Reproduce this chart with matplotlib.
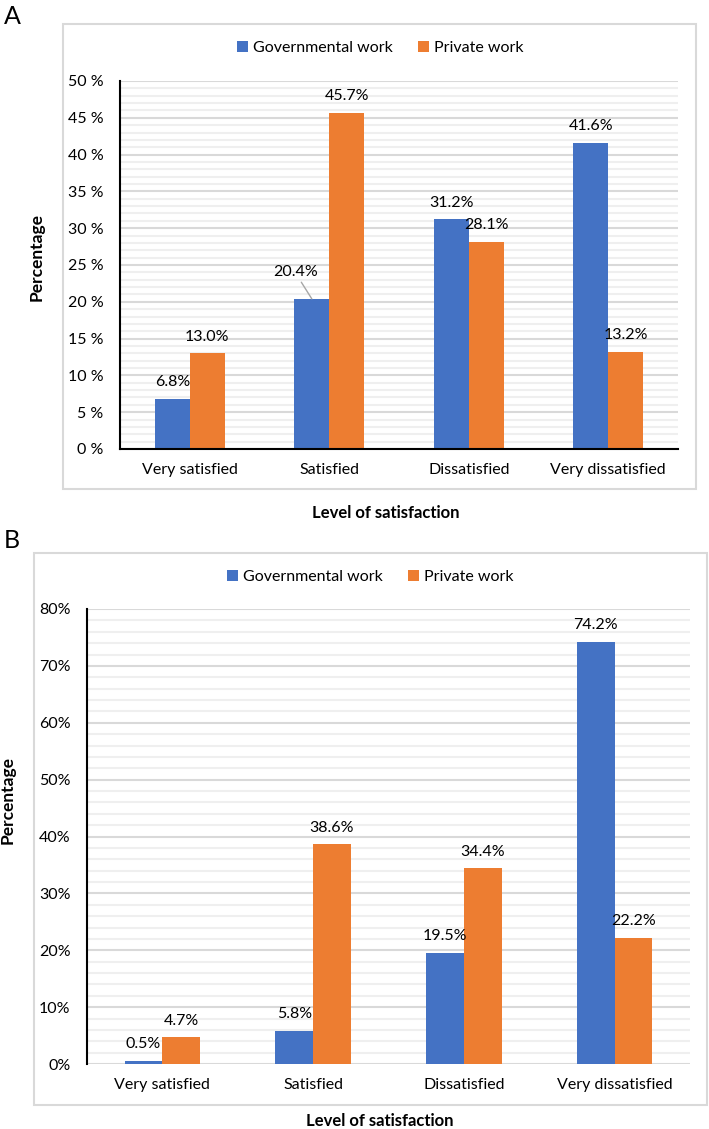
import matplotlib
matplotlib.use("Agg")
import matplotlib.pyplot as plt
import numpy as np
from matplotlib.patches import Rectangle

plt.rcParams['font.family'] = ['Lato', 'DejaVu Sans']

# data
categories = ['Very satisfied', 'Satisfied', 'Dissatisfied', 'Very dissatisfied']
a_gov = [6.8, 20.4, 31.2, 41.6]
a_priv = [13.0, 45.7, 28.1, 13.2]
b_gov = [0.5, 5.8, 19.5, 74.2]
b_priv = [4.7, 38.6, 34.4, 22.2]
a_ticks = [0, 5, 10, 15, 20, 25, 30, 35, 40, 45, 50]
a_ticklabels = ['%d %%' % t for t in a_ticks]
b_ticks = [0, 10, 20, 30, 40, 50, 60, 70, 80]
b_ticklabels = ['%d%%' % t for t in b_ticks]

BLUE = '#4472C4'
ORANGE = '#ED7D31'
W, H = 709, 1129
LBL = 11.5

fig = plt.figure(figsize=(W / 100, H / 100), dpi=100)


def px_axes(l, t, r, b):
    return fig.add_axes([l / W, 1 - b / H, (r - l) / W, (b - t) / H])


def box(l, t, r, b):
    fig.patches.append(Rectangle((l / W, 1 - b / H), (r - l) / W, (b - t) / H,
                                 transform=fig.transFigure, fill=False,
                                 edgecolor='#D9D9D9', linewidth=1.5))


def panel(ax, gov, priv, ticks, ticklabels, minor_step, bottom_spine):
    x = np.arange(len(categories))
    w = 0.25
    bg = ax.bar(x - w / 2, gov, w, color=BLUE, label='Governmental work', zorder=3)
    bp = ax.bar(x + w / 2, priv, w, color=ORANGE, label='Private work', zorder=3)
    ax.set_xlim(-0.5, len(categories) - 0.5)
    ax.set_ylim(ticks[0], ticks[-1])
    ax.set_yticks(ticks)
    ax.set_yticklabels(ticklabels)
    ax.set_yticks(np.arange(ticks[0], ticks[-1], minor_step), minor=True)
    ax.set_xticks(x)
    ax.set_xticklabels(categories)
    ax.tick_params(axis='both', which='both', length=0, labelsize=11.5)
    ax.tick_params(axis='y', pad=12)
    ax.tick_params(axis='x', pad=10)
    ax.grid(axis='y', which='major', color='#D9D9D9', linewidth=1.5, zorder=0)
    ax.grid(axis='y', which='minor', color='#EFEFEF', linewidth=1.5, zorder=0)
    for s in ['top', 'right']:
        ax.spines[s].set_visible(False)
    ax.spines['left'].set_color('black')
    ax.spines['left'].set_linewidth(1.5)
    if bottom_spine:
        ax.spines['bottom'].set_color('black')
        ax.spines['bottom'].set_linewidth(1.5)
        ax.spines['bottom'].set_zorder(4)
    else:
        ax.spines['bottom'].set_visible(False)
    return bg, bp


# ---- panel A
box(63, 24, 696, 489)
axA = px_axes(120, 81, 678, 449)
bg, bp = panel(axA, a_gov, a_priv, a_ticks, a_ticklabels, 1, True)
for i, (r, v) in enumerate(zip(bg, a_gov)):
    cx = r.get_x() + r.get_width() / 2
    if i == 1:
        axA.annotate('%.1f%%' % v, xy=(cx, v), xytext=(-12, 14), textcoords='offset points',
                     ha='center', va='bottom', fontsize=LBL,
                     arrowprops=dict(arrowstyle='-', color='#A6A6A6', lw=1,
                                     shrinkA=0, shrinkB=0))
    else:
        axA.annotate('%.1f%%' % v, xy=(cx, v), xytext=(0, 7), textcoords='offset points',
                     ha='center', va='bottom', fontsize=LBL)
for r, v in zip(bp, a_priv):
    axA.annotate('%.1f%%' % v, xy=(r.get_x() + r.get_width() / 2, v), xytext=(0, 7),
                 textcoords='offset points', ha='center', va='bottom', fontsize=LBL)
fig.legend(handles=[bg, bp], loc='center', bbox_to_anchor=(380 / W, 1 - 48 / H),
           ncol=2, frameon=False, fontsize=11.5, handlelength=0.7, handleheight=0.7,
           handletextpad=0.3, columnspacing=1.6)
fig.text(37 / W, 1 - 257 / H, 'Percentage', rotation=90, ha='center', va='center',
         fontsize=12.5, fontweight='bold')
fig.text(386 / W, 1 - 513 / H, 'Level of satisfaction', ha='center', va='center',
         fontsize=12, fontweight='bold')
fig.text(4 / W, 1 - 16 / H, 'A', ha='left', va='center', fontsize=18)

# ---- panel B
box(34, 553, 707, 1105)
axB = px_axes(87, 609, 690, 1064)
bg, bp = panel(axB, b_gov, b_priv, b_ticks, b_ticklabels, 2, False)
for bars, vals in [(bg, b_gov), (bp, b_priv)]:
    for r, v in zip(bars, vals):
        axB.annotate('%.1f%%' % v, xy=(r.get_x() + r.get_width() / 2, v), xytext=(0, 7),
                     textcoords='offset points', ha='center', va='bottom', fontsize=LBL)
fig.legend(handles=[bg, bp], loc='center', bbox_to_anchor=(370 / W, 1 - 577 / H),
           ncol=2, frameon=False, fontsize=11.5, handlelength=0.7, handleheight=0.7,
           handletextpad=0.3, columnspacing=1.6)
fig.text(8 / W, 1 - 800 / H, 'Percentage', rotation=90, ha='center', va='center',
         fontsize=12.5, fontweight='bold')
fig.text(380 / W, 1 - 1121 / H, 'Level of satisfaction', ha='center', va='center',
         fontsize=12, fontweight='bold')
fig.text(4 / W, 1 - 541 / H, 'B', ha='left', va='center', fontsize=18)

fig.savefig('out.png', dpi=100)
